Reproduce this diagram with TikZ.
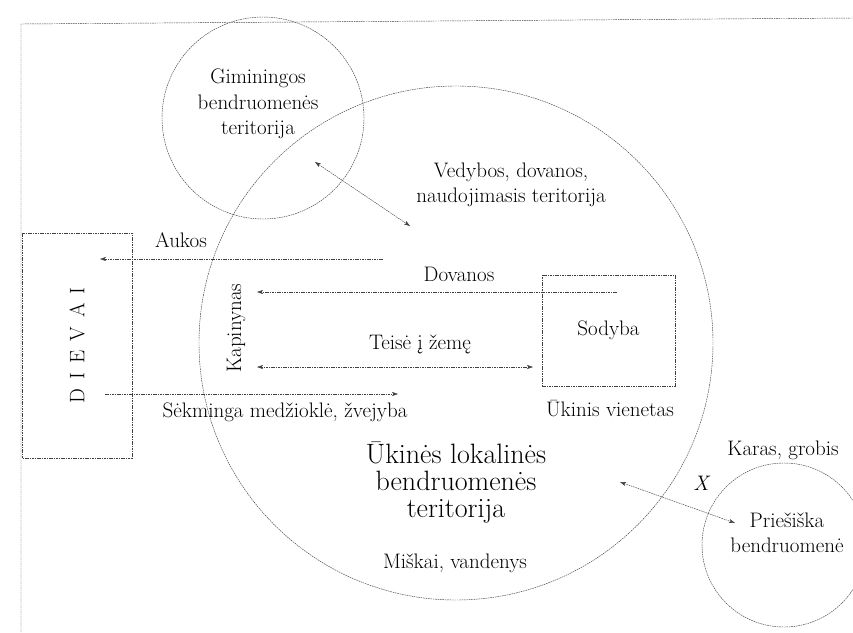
\documentclass[tikz,border=0pt]{standalone}
\usepackage{fontspec}
\usetikzlibrary{arrows.meta}
\begin{document}
\begin{tikzpicture}[x=1pt, y=-1pt,
    >={Stealth[length=6pt, width=4pt, inset=1.5pt]},
    line/.style={draw=black!75, line width=0.45pt, dash pattern=on 1.6pt off 0.8pt},
    lbl/.style={font=\fontsize{21}{25.5}\selectfont, inner sep=0pt},
    big/.style={font=\fontsize{28}{27}\selectfont, inner sep=0pt, align=center}]
    \useasboundingbox (0,0) rectangle (853,632);
    % frame and territories
    \draw[line] (21,632) -- (21,24) -- (853,18);
    \draw[line] (456,343) circle (257pt);
    \draw[line] (263,118) circle (101pt);
    \draw[line] (784,545) circle (82pt);
    % boxes
    \node[line, lbl, rotate=90, minimum width=225pt, minimum height=110pt] (dievai) at (77,345.5)
      {D\hspace{9pt}I\hspace{9pt}E\hspace{9pt}V\hspace{9pt}A\hspace{9pt}I};
    \node[line, lbl, minimum width=133pt, minimum height=111pt] (sodyba) at (608.5,330.5) {Sodyba};
    % labels
    \node[lbl, anchor=base] (ukinis) at (610,416) {Ūkinis vienetas};
    \node[lbl, align=center] (giminingos) at (258,104) {Giminingos\\bendruomenės\\teritorija};
    \node[lbl, align=center] (vedybos) at (511,185) {Vedybos, dovanos,\\naudojimasis teritorija};
    \node[lbl, anchor=base] (aukos) at (181,247) {Aukos};
    \node[lbl, anchor=base] (dovanos) at (459,281) {Dovanos};
    \node[lbl, anchor=base] (teise) at (420,349) {Teisė į žemę};
    \node[lbl, anchor=base] (sekminga) at (285,417) {Sėkminga medžioklė, žvejyba};
    \node[lbl, rotate=90] (kapinynas) at (236,328) {Kapinynas};
    \node[big] (ukines) at (456,483) {Ūkinės lokalinės\\bendruomenės\\teritorija};
    \node[lbl, anchor=base] (miskai) at (455,568) {Miškai, vandenys};
    \node[lbl, anchor=base] (karas) at (783,455) {Karas, grobis};
    \node[lbl] (x) at (702,483) {\textit{X}};
    \node[lbl, align=center] (priesiska) at (787,533) {Priešiška\\bendruomenė};
    % arrow ends
    \coordinate (aukosA) at (383,259);
    \coordinate (aukosB) at (100,259);
    \coordinate (sekmA) at (105,394);
    \coordinate (sekmB) at (398,394);
    \coordinate (dovA) at (617,292);
    \coordinate (dovB) at (257,292);
    \coordinate (teiseA) at (257,367);
    \coordinate (teiseB) at (533,367);
    \coordinate (vedA) at (315,162);
    \coordinate (vedB) at (410,226);
    \coordinate (karasA) at (620,482);
    \coordinate (karasB) at (735,523);
    % arrows
    \draw[line, ->] (aukosA) -- (aukosB);
    \draw[line, ->] (sekmA) -- (sekmB);
    \draw[line, ->] (dovA) -- (dovB);
    \draw[line, <->] (teiseA) -- (teiseB);
    \draw[line, <->] (vedA) -- (vedB);
    \draw[line, <->] (karasA) -- (karasB);
\end{tikzpicture}
\end{document}
